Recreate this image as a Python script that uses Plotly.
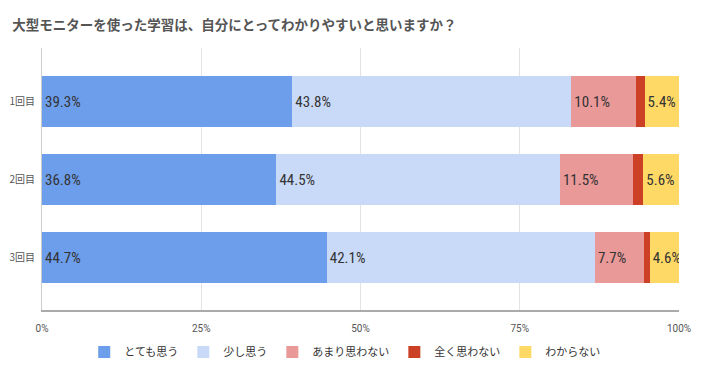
import plotly.graph_objects as go

categories = ["1回目", "2回目", "3回目"]
series_names = ["とても思う", "少し思う", "あまり思わない", "全く思わない", "わからない"]
very = [39.3, 36.8, 44.7]
little = [43.8, 44.5, 42.1]
notmuch = [10.1, 11.5, 7.7]
notatall = [1.4, 1.6, 0.9]
unknown = [5.4, 5.6, 4.6]
series_values = [very, little, notmuch, notatall, unknown]
show_labels = [True, True, True, False, True]
colors = ["#6d9eeb", "#c9daf8", "#ea9999", "#cc4125", "#ffd966"]
x_ticks = [0, 25, 50, 75, 100]
x_tick_labels = ["0%", "25%", "50%", "75%", "100%"]
title = "大型モニターを使った学習は、自分にとってわかりやすいと思いますか？"

JP = "Noto Sans CJK JP, Noto Sans, sans-serif"

fig = go.Figure()
for name, vals, col, lab in zip(series_names, series_values, colors, show_labels):
    fig.add_trace(go.Bar(
        y=categories, x=vals, name=name, orientation="h",
        marker=dict(color=col, line=dict(width=0)),
        text=[f"{v}%" if lab else "" for v in vals],
        textposition="inside", insidetextanchor="start", textangle=0,
        textfont=dict(family="Roboto Condensed, Roboto, sans-serif", size=15, color="#333333"),
        width=0.65,
    ))

fig.update_layout(
    barmode="stack",
    width=696, height=365,
    margin=dict(l=34, r=25, t=40, b=63, autoexpand=False),
    paper_bgcolor="white", plot_bgcolor="white",
    title=dict(text=f"<b>{title}</b>", x=0.006, xanchor="left", y=0.953, yanchor="middle",
               font=dict(family=JP, size=13.5, color="#555555")),
    uniformtext=dict(mode="show", minsize=15),
    legend=dict(orientation="h", x=0.476, xanchor="center", y=-0.16, yanchor="middle",
                font=dict(family=JP, size=11, color="#333333"),
                itemwidth=30, traceorder="normal", tracegroupgap=0),
    showlegend=True,
)
fig.update_xaxes(range=[0, 100], tickvals=x_ticks, ticktext=x_tick_labels,
                 automargin=False,
                 showgrid=True, gridcolor="#e3e3e3", gridwidth=1,
                 showline=True, linecolor="#aaaaaa", linewidth=1.5,
                 zeroline=False, ticks="", ticklabelstandoff=8,
                 tickfont=dict(family="Roboto, sans-serif", size=10, color="#555555"))
fig.update_yaxes(autorange=False, range=[2.673, -0.686], categoryorder="array",
                 categoryarray=categories, automargin=False,
                 showgrid=False, showline=True, linecolor="#cccccc", linewidth=1,
                 ticks="", ticklabelstandoff=4,
                 tickfont=dict(family=JP, size=10, color="#555555"))

fig.write_html("out.html")
